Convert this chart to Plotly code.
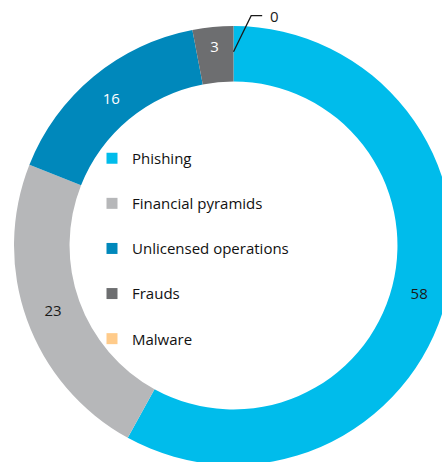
import math
import plotly.graph_objects as go

# Share of reported cases by category (percent)
categories = ["Phishing", "Financial pyramids", "Unlicensed operations", "Frauds", "Malware"]
values = [58, 23, 16, 3, 0]
colors = ["#00BCEB", "#B6B7B9", "#0088BB", "#6D6E70", "#FFCB8A"]
label_colors = ["#1a1a1a", "#1a1a1a", "#ffffff", "#ffffff", "#1a1a1a"]

FONT = "Open Sans"
W, H = 467, 491
DOM_X = [0.03, 0.97]
HOLE = 0.747

fig = go.Figure()

fig.add_trace(go.Pie(
    labels=categories,
    values=values,
    sort=False,
    direction="clockwise",
    rotation=0,
    hole=HOLE,
    domain=dict(x=DOM_X, y=[0, 1]),
    marker=dict(colors=colors, line=dict(width=0)),
    textinfo="value",
    textposition=["inside" if v > 0 else "none" for v in values],
    insidetextorientation="horizontal",
    insidetextfont=dict(family=FONT, size=15, color=label_colors),
    showlegend=False,
    hoverinfo="label+value",
))

# Legend entries (square swatches), one group per category for spacing
for name, col in zip(categories, colors):
    fig.add_trace(go.Scatter(
        x=[None], y=[None], mode="markers", name=name,
        legendgroup=name,
        marker=dict(symbol="square", size=11, color=col),
    ))

# Leader line and label for zero-sized slices, placed from the cumulative share
total = sum(values)
R = (DOM_X[1] - DOM_X[0]) * W / 2
cx, cy = W / 2, H / 2
shapes, annotations = [], []
cum = 0
for name, v in zip(categories, values):
    start = cum
    cum += v
    if v != 0:
        continue
    theta = 2 * math.pi * start / total
    r0 = R * (1 + HOLE) / 2 + 2
    r1 = R * 1.05
    ax, ay = cx + r0 * math.sin(theta), cy - r0 * math.cos(theta)
    bx, by = cx + r1 * math.sin(theta + math.radians(4.4)), cy - r1 * math.cos(theta + math.radians(4.4))
    ex = bx + 11
    to_px = lambda x, y: (x / W, 1 - y / H)
    p0, p1, p2 = to_px(ax, ay), to_px(bx, by), to_px(ex, by)
    shapes.append(dict(
        type="path", xref="paper", yref="paper",
        path=f"M {p0[0]} {p0[1]} L {p1[0]} {p1[1]} L {p2[0]} {p2[1]}",
        line=dict(color="#1a1a1a", width=1.3),
    ))
    annotations.append(dict(
        x=(ex + 6) / W, y=1 - by / H, xref="paper", yref="paper",
        text=str(v), showarrow=False, xanchor="left", yanchor="middle",
        font=dict(family=FONT, size=15, color="#1a1a1a"),
    ))

fig.update_layout(
    width=W, height=H,
    margin=dict(l=0, r=0, t=0, b=0),
    paper_bgcolor="white",
    plot_bgcolor="white",
    xaxis=dict(visible=False),
    yaxis=dict(visible=False),
    shapes=shapes,
    annotations=annotations,
    legend=dict(
        x=92 / W, y=1 - 142 / H, xanchor="left", yanchor="top",
        font=dict(family=FONT, size=15, color="#111111"),
        tracegroupgap=22.6,
        bgcolor="rgba(0,0,0,0)",
        itemclick=False, itemdoubleclick=False,
    ),
    showlegend=True,
)

fig.write_html("out.html")
